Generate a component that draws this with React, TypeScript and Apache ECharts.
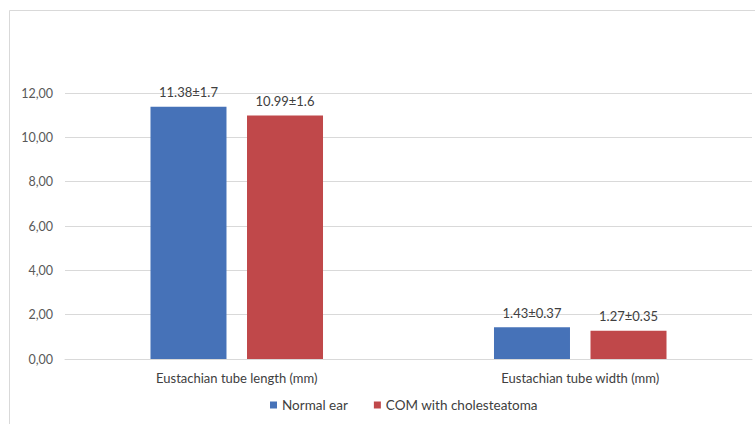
import React, { useEffect, useRef } from "react";
import * as echarts from "echarts";

const categories = ["Eustachian tube length (mm)", "Eustachian tube width (mm)"];
const seriesNames = ["Normal ear", "COM with cholesteatoma"];
const normalMeans = [11.38, 1.43];
const normalSD = ["1.7", "0.37"];
const comMeans = [10.99, 1.27];
const comSD = ["1.6", "0.35"];
const colors = ["#4672b8", "#c0484a"];

export default function App() {
  const ref = useRef<HTMLDivElement>(null);
  useEffect(() => {
    if (!ref.current) return;
    const chart = echarts.init(ref.current, undefined, { renderer: "svg" });
    const font = "Lato, 'Noto Sans', sans-serif";
    const mkLabel = (means: number[], sds: string[]) => ({
      show: true,
      position: "top" as const,
      distance: 8,
      color: "#404040",
      fontSize: 13,
      fontFamily: font,
      formatter: (p: any) => `${means[p.dataIndex].toFixed(2)}±${sds[p.dataIndex]}`,
    });
    chart.setOption({
      animation: false,
      backgroundColor: "#ffffff",
      textStyle: { fontFamily: font },
      graphic: [
        {
          type: "rect",
          shape: { x: 9.5, y: 10.5, width: 760, height: 420 },
          style: { fill: "none", stroke: "#d9d9d9", lineWidth: 1 },
          silent: true,
        },
      ],
      grid: { left: 65, right: 3, top: 93, bottom: 65, containLabel: false },
      legend: {
        bottom: 7,
        left: 265,
        icon: "rect",
        itemWidth: 7,
        itemHeight: 7,
        itemGap: 26,
        textStyle: { color: "#404040", fontSize: 13.5, fontFamily: font },
        data: seriesNames,
      },
      xAxis: {
        type: "category",
        data: categories,
        axisLine: { lineStyle: { color: "#d9d9d9" } },
        axisTick: { show: false },
        axisLabel: { color: "#404040", fontSize: 13, margin: 12, fontFamily: font },
      },
      yAxis: {
        type: "value",
        min: 0,
        max: 12,
        interval: 2,
        axisLine: { show: false },
        axisTick: { show: false },
        splitLine: { lineStyle: { color: "#d9d9d9" } },
        axisLabel: {
          color: "#595959",
          fontSize: 12.5,
          margin: 12,
          fontFamily: font,
          formatter: (v: number) => v.toFixed(2).replace(".", ","),
        },
      },
      series: [
        {
          name: seriesNames[0],
          type: "bar",
          data: normalMeans,
          barWidth: 76,
          barGap: "27%",
          itemStyle: { color: colors[0] },
          label: mkLabel(normalMeans, normalSD),
        },
        {
          name: seriesNames[1],
          type: "bar",
          data: comMeans,
          barWidth: 76,
          itemStyle: { color: colors[1] },
          label: mkLabel(comMeans, comSD),
        },
      ],
    });
    return () => chart.dispose();
  }, []);
  return (
    <div
      ref={ref}
      style={{ position: "fixed", left: 0, top: 0, width: 755, height: 424 }}
    />
  );
}
